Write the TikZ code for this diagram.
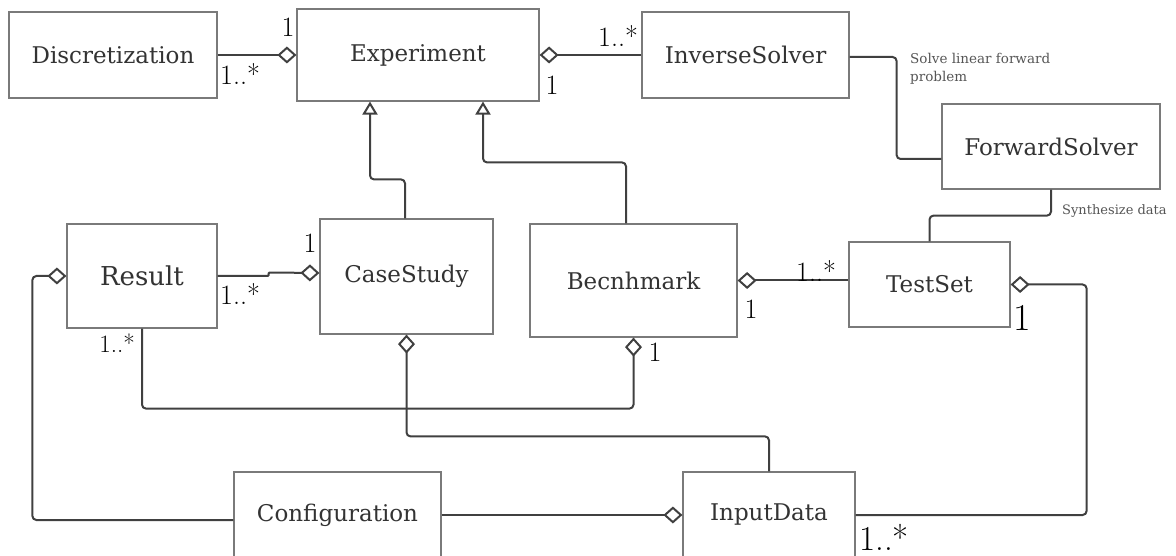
\documentclass[tikz,border=0pt]{standalone}
\usepackage{fontspec}
\newfontfamily\clsfont{DejaVu Serif}
\usetikzlibrary{arrows.meta}
\definecolor{boxc}{HTML}{7A7A7A}
\definecolor{linec}{HTML}{404040}
\definecolor{txtc}{HTML}{333333}
\definecolor{notec}{HTML}{555555}
\tikzset{
  cls/.style={draw=boxc, line width=1.2pt, fill=white, text=txtc, inner sep=0pt,
    font=\clsfont\fontsize{23}{27}\selectfont},
  conn/.style={draw=linec, line width=2pt, rounded corners=4pt},
  agg/.style={conn, -{Diamond[open, length=19pt, width=17pt]}},
  inh/.style={conn, -{Triangle[open, length=13pt, width=15pt]}},
  mult/.style={inner sep=0pt, text=black, font=\fontsize{28}{30}\selectfont},
  note/.style={inner sep=0pt, text=notec, align=left, font=\clsfont\fontsize{13.5}{18.5}\selectfont}
}
\begin{document}
\begin{tikzpicture}[x=1pt, y=-1pt]
\clip (0,0) rectangle (1176,556);
\useasboundingbox (0,0) rectangle (1176,556);
% classes
\node[cls, minimum width=208pt, minimum height=86pt] (disc) at (113,55) {Discretization};
\node[cls, minimum width=242pt, minimum height=92pt] (exp) at (418,55) {Experiment};
\node[cls, minimum width=207pt, minimum height=86pt] (inv) at (745.5,55) {InverseSolver};
\node[cls, minimum width=218pt, minimum height=85pt] (fwd) at (1051,146.5) {ForwardSolver};
\node[cls, minimum width=150pt, minimum height=104pt, font=\clsfont\fontsize{26}{30}\selectfont] (res) at (142,276) {Result};
\node[cls, minimum width=173pt, minimum height=115pt] (cs) at (406.5,276.5) {CaseStudy};
\node[cls, minimum width=207pt, minimum height=113pt] (ben) at (633.5,280.5) {Becnhmark};
\node[cls, minimum width=161pt, minimum height=85pt] (ts) at (929.5,284.5) {TestSet};
\node[cls, minimum width=207pt, minimum height=86pt] (conf) at (337.5,515) {Configuration};
\node[cls, minimum width=172pt, minimum height=86pt] (inp) at (769,515) {InputData};
% connectors
\draw[agg] (disc.east) -- (exp.west);
\draw[agg] (inv.west) -- (exp.east);
\draw[conn] ([yshift=-2pt]inv.east) -- ++(47,0) |- ([yshift=-12.5pt]fwd.west);
\draw[conn] (fwd.south) -- ++(0,26) -| (ts.north);
\draw[inh] ([xshift=-1.5pt]cs.north) -- ++(0,-39) -| ([xshift=-48pt]exp.south);
\draw[inh] ([xshift=-7.5pt]ben.north) -- ++(0,-61) -| ([xshift=65pt]exp.south);
\draw[agg, rounded corners=1pt] (res.east) -- ++(51,0) -- ++(0,-3.5) -- ([yshift=3.5pt]cs.west);
\draw[agg] ([yshift=-5pt]conf.west) -| ([xshift=-34pt]res.west) -- (res.west);
\draw[agg] (res.south) -- ++(0,80) -| (ben.south);
\draw[agg] (inp.north) -- ++(0,-35) -| (cs.south);
\draw[agg] (conf.east) -- (inp.west);
\draw[agg] (ts.west |- ben.east) -- (ben.east);
\draw[agg] (inp.east) -- ++(231,0) |- (ts.east);
% connector notes
\node[note, anchor=north west] (n1) at (910,53) {Solve linear forward\\problem};
\node[note, anchor=west, font=\clsfont\fontsize{13}{16}\selectfont] (n2) at (1062,211) {Synthesize data};
% multiplicities
\node[mult] (m1) at (288,27) {1};
\node[mult] (m2) at (240,74) {1..*};
\node[mult] (m3) at (618,36) {1..*};
\node[mult] (m4) at (552,85) {1};
\node[mult] (m5) at (310,243) {1};
\node[mult] (m6) at (240,294) {1..*};
\node[mult, font=\fontsize{25}{28}\selectfont] (m7) at (117,343) {1..*};
\node[mult] (m8) at (655,352) {1};
\node[mult] (m9) at (816,271) {1..*};
\node[mult] (m10) at (751,309) {1};
\node[mult, font=\fontsize{38}{40}\selectfont] (m11) at (1022,318) {1};
\node[mult, font=\fontsize{35}{38}\selectfont] (m12) at (884,537) {1..*};
\end{tikzpicture}
\end{document}
